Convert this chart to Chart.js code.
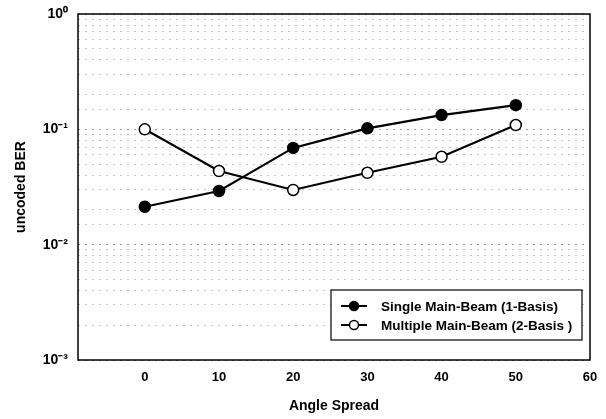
<!DOCTYPE html>
<html lang="en">
<head>
  <meta charset="UTF-8" />
  <title>uncoded BER vs Angle Spread</title>
  <script src="https://cdn.jsdelivr.net/npm/chart.js"></script>
  <style>
    html, body { margin: 0; padding: 0; background: #fff; }
    #wrap { width: 606px; height: 419px; }
  </style>
</head>
<body>
  <div id="wrap"><canvas id="berChart"></canvas></div>
  <script>
    // values
    const angles = [0, 10, 20, 30, 40, 50];
    const singleBeam = [0.0213, 0.0292, 0.069, 0.102, 0.133, 0.162];
    const multiBeam = [0.100, 0.0435, 0.0298, 0.042, 0.0578, 0.109];
    const xTicks = [0, 10, 20, 30, 40, 50, 60];
    const yMajor = [1e-3, 1e-2, 1e-1, 1];
    const yLabels = ['10⁻³', '10⁻²', '10⁻¹', '10⁰'];
    const seriesNames = ['Single Main-Beam (1-Basis)', 'Multiple Main-Beam (2-Basis )'];

    const FONT = '"Liberation Sans", Arial, sans-serif';

    // frame round the plot + legend box
    const framePlugin = {
      id: 'frame',
      afterDraw(chart) {
        const { ctx, chartArea: a } = chart;
        ctx.save();
        ctx.setLineDash([]);
        ctx.strokeStyle = '#000';
        ctx.lineWidth = 1.5;
        ctx.strokeRect(a.left, a.top, a.right - a.left, a.bottom - a.top);

        // legend
        const lx = 331, ly = 290, lw = 251, lh = 50;
        ctx.fillStyle = '#fff';
        ctx.fillRect(lx, ly, lw, lh);
        ctx.lineWidth = 1.2;
        ctx.strokeRect(lx, ly, lw, lh);
        ctx.font = 'bold 13.5px ' + FONT;
        ctx.textBaseline = 'middle';
        const rows = [ly + 16, ly + 35];
        rows.forEach((y, i) => {
          ctx.strokeStyle = '#000';
          ctx.lineWidth = 2;
          ctx.beginPath();
          ctx.moveTo(lx + 10, y);
          ctx.lineTo(lx + 36, y);
          ctx.stroke();
          ctx.lineWidth = 1.5;
          ctx.beginPath();
          ctx.arc(lx + 23, y, 4.5, 0, Math.PI * 2);
          ctx.fillStyle = i === 0 ? '#000' : '#fff';
          ctx.fill();
          ctx.stroke();
          ctx.fillStyle = '#000';
          ctx.fillText(seriesNames[i], lx + 50, y + 1);
        });
        ctx.restore();
      }
    };

    new Chart(document.getElementById('berChart'), {
      type: 'line',
      data: {
        labels: angles,
        datasets: [
          {
            label: seriesNames[0],
            data: angles.map((a, i) => ({ x: a, y: singleBeam[i] })),
            borderColor: '#000',
            borderWidth: 2.2,
            pointRadius: 5.5,
            pointBackgroundColor: '#000',
            pointBorderColor: '#000',
            pointBorderWidth: 1.5
          },
          {
            label: seriesNames[1],
            data: angles.map((a, i) => ({ x: a, y: multiBeam[i] })),
            borderColor: '#000',
            borderWidth: 2.2,
            pointRadius: 5.5,
            pointBackgroundColor: '#fff',
            pointBorderColor: '#000',
            pointBorderWidth: 1.5
          }
        ]
      },
      options: {
        responsive: true,
        maintainAspectRatio: false,
        animation: false,
        layout: { padding: { top: 14, right: 16, left: 9, bottom: 0 } },
        plugins: {
          legend: { display: false },
          tooltip: { enabled: false }
        },
        scales: {
          x: {
            type: 'linear',
            min: -9,
            max: 60,
            afterBuildTicks(scale) {
              scale.ticks = xTicks.map(v => ({ value: v }));
            },
            afterFit(scale) {
              scale.height = 59;
              scale.paddingRight = 0;
            },
            grid: { display: false, drawTicks: true, tickLength: 5, tickColor: '#000' },
            border: { display: false },
            ticks: {
              color: '#000',
              font: { family: FONT, size: 13, weight: 'bold' },
              padding: 5
            },
            title: {
              display: true,
              text: 'Angle Spread',
              color: '#000',
              font: { family: FONT, size: 14, weight: 'bold' },
              padding: { top: 9 }
            }
          },
          y: {
            type: 'logarithmic',
            min: 1e-3,
            max: 1,
            afterFit(scale) {
              scale.width = 69;
              scale.paddingTop = 0;
              scale.paddingBottom = 0;
            },
            grid: {
              color: ctx => (yMajor.includes(ctx.tick && ctx.tick.value) ? '#999' : '#c4c4c4'),
              lineWidth: 1,
              drawTicks: false
            },
            border: { display: false, dash: [2, 5] },
            ticks: {
              color: '#000',
              font: { family: FONT, size: 14, weight: 'bold' },
              padding: 10,
              autoSkip: false,
              callback(value) {
                const k = yMajor.findIndex(m => Math.abs(m - value) / m < 1e-6);
                return k >= 0 ? yLabels[k] : '';
              }
            },
            title: {
              display: true,
              text: 'uncoded BER',
              color: '#000',
              font: { family: FONT, size: 14, weight: 'bold' },
              padding: { bottom: 2 }
            }
          }
        }
      },
      plugins: [framePlugin]
    });
  </script>
</body>
</html>
